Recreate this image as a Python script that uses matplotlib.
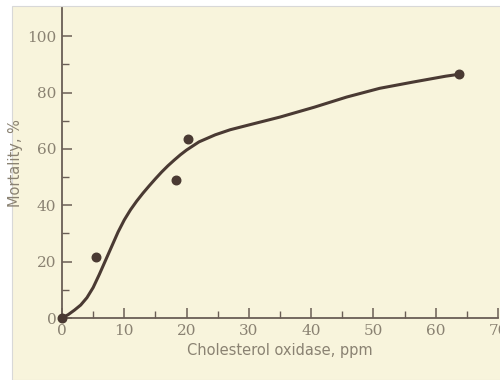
import matplotlib.pyplot as plt
from matplotlib.patches import Rectangle

# puntos medidos
dosis = [0, 5.4, 18.3, 20.3, 63.8]
mortalidad = [0, 21.5, 49, 63.5, 86.5]

# curva ajustada
curva_x = [0, 1, 2, 3, 4, 5, 6, 7, 8, 9, 10, 11, 12, 13, 14, 15, 16, 17, 18, 19, 20,
           22, 24.6, 27, 30, 35, 40.5, 45.7, 51, 56.3, 61.6, 63.8]
curva_y = [0, 1.2, 2.8, 4.6, 7.2, 10.8, 15.5, 20.5, 25.5, 30.5, 34.8, 38.4, 41.5, 44.3,
           46.9, 49.4, 51.8, 54, 56, 57.9, 59.6,
           62.5, 65, 66.8, 68.5, 71.3, 74.8, 78.4, 81.5, 83.7, 85.8, 86.5]

x_ticks = [0, 10, 20, 30, 40, 50, 60, 70]
y_ticks = [0, 20, 40, 60, 80, 100]

fondo = '#f8f4dc'
tinta = '#4a3a33'
texto = '#8a8272'

fig = plt.figure(figsize=(5, 3.8), dpi=100)
fig.patch.set_facecolor('white')
fig.patches.append(Rectangle((12 / 500, 0), 1, 1 - 6 / 380, transform=fig.transFigure,
                             facecolor=fondo, edgecolor='#d8d8d8', lw=0.8, zorder=-1))

ax = fig.add_axes([62 / 500, 62 / 380, 436 / 500, 310 / 380])
ax.set_facecolor('none')

ax.plot(curva_x, curva_y, color=tinta, lw=2.2, solid_capstyle='round',
        solid_joinstyle='round', zorder=2)
ax.scatter(dosis, mortalidad, s=38, color=tinta, zorder=3, clip_on=False)

ax.set_xlim(0, 70)
ax.set_ylim(0, 110)
ax.set_xticks(x_ticks)
ax.set_yticks(y_ticks)
ax.set_xticks(range(5, 70, 10), minor=True)
ax.set_yticks(range(10, 110, 20), minor=True)

for s in ['top', 'right']:
    ax.spines[s].set_visible(False)
for s in ['left', 'bottom']:
    ax.spines[s].set_color('#6a5e55')
    ax.spines[s].set_linewidth(1.3)

ax.tick_params(which='major', direction='in', length=7, width=1.1, color='#6a5e55',
               labelcolor=texto, labelsize=11, pad=4)
ax.tick_params(which='minor', direction='in', length=5, width=1.0, color='#6a5e55')

for lab in ax.get_xticklabels() + ax.get_yticklabels():
    lab.set_family('DejaVu Serif')

ax.set_xlabel('Cholesterol oxidase, ppm', color=texto, fontsize=10.5, labelpad=4)
ax.set_ylabel('Mortality, %', color=texto, fontsize=10.5, labelpad=3)

plt.savefig('out.png', dpi=100, facecolor=fig.get_facecolor())
